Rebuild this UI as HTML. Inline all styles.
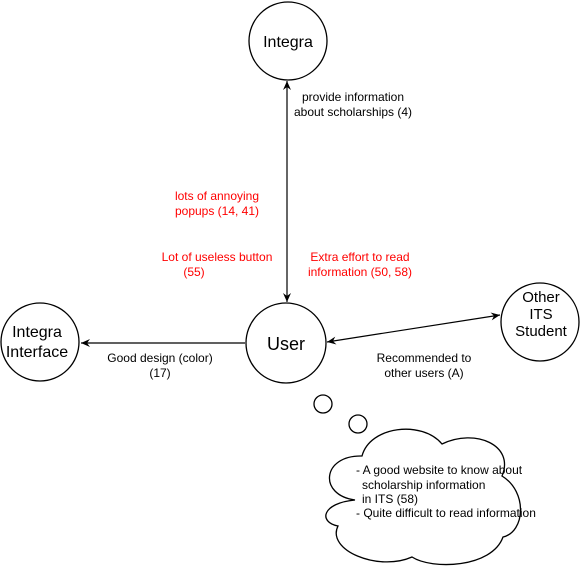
<!DOCTYPE html>
<html><head><meta charset="utf-8"><style>
body{margin:0;background:#fff;}
svg{display:block;font-family:"Liberation Sans",Arial,sans-serif;}
</style></head><body>
<svg width="584" height="574" viewBox="0 0 584 574" xmlns="http://www.w3.org/2000/svg">
<defs>
<marker id="a" markerWidth="10" markerHeight="10" refX="9" refY="5" orient="auto-start-reverse" markerUnits="userSpaceOnUse">
<path d="M0,1 L9,5 L0,9 L3,5 Z" fill="#000"/>
</marker>
</defs>
<g fill="#fff" stroke="#000" stroke-width="1.3">
<circle cx="288" cy="41" r="39"/>
<circle cx="286" cy="343" r="40"/>
<circle cx="40" cy="342" r="39"/>
<circle cx="540" cy="322" r="39"/>
<circle cx="323" cy="404" r="9"/>
<circle cx="358" cy="424" r="9"/>
<path d="M355,500 C318,495 322,455 362,456 C370,426 422,420 442,444 C475,428 515,445 502,476 C528,492 525,532 503,537 C492,568 432,570 412,557 C378,572 326,550 338,526 C318,522 322,503 355,500 Z"/>
</g>
<g stroke="#000" stroke-width="1.2" fill="none">
<line x1="287" y1="81" x2="287" y2="302" marker-start="url(#a)" marker-end="url(#a)"/>
<line x1="245" y1="343" x2="81" y2="343" marker-end="url(#a)"/>
<line x1="327" y1="342" x2="500" y2="315" marker-start="url(#a)" marker-end="url(#a)"/>
</g>
<g font-size="16" text-anchor="middle" fill="#000">
<text x="288" y="47">Integra</text>
<text x="286" y="350" font-size="18">User</text>
<text x="37" y="337">Integra</text>
<text x="37" y="357">Interface</text>
<text x="541" y="302" font-size="15">Other</text>
<text x="541" y="319" font-size="15">ITS</text>
<text x="541" y="336" font-size="15">Student</text>
</g>
<g font-size="12" text-anchor="middle" fill="#000">
<text x="353" y="101">provide information</text>
<text x="353" y="116">about scholarships (4)</text>
<text x="160" y="362">Good design (color)</text>
<text x="160" y="377">(17)</text>
<text x="424" y="362">Recommended to</text>
<text x="424" y="377">other users (A)</text>
</g>
<g font-size="12" text-anchor="middle" fill="#f00">
<text x="217" y="200">lots of annoying</text>
<text x="217" y="215">popups (14, 41)</text>
<text x="217" y="261">Lot of useless button</text>
<text x="194" y="276">(55)</text>
<text x="360" y="261">Extra effort to read</text>
<text x="360" y="276">information (50, 58)</text>
</g>
<g font-size="12" fill="#000">
<text x="356" y="474">- A good website to know about</text>
<text x="362" y="489">scholarship information</text>
<text x="362" y="503">in ITS (58)</text>
<text x="356" y="517">- Quite difficult to read information</text>
</g>
</svg>
</body></html>
